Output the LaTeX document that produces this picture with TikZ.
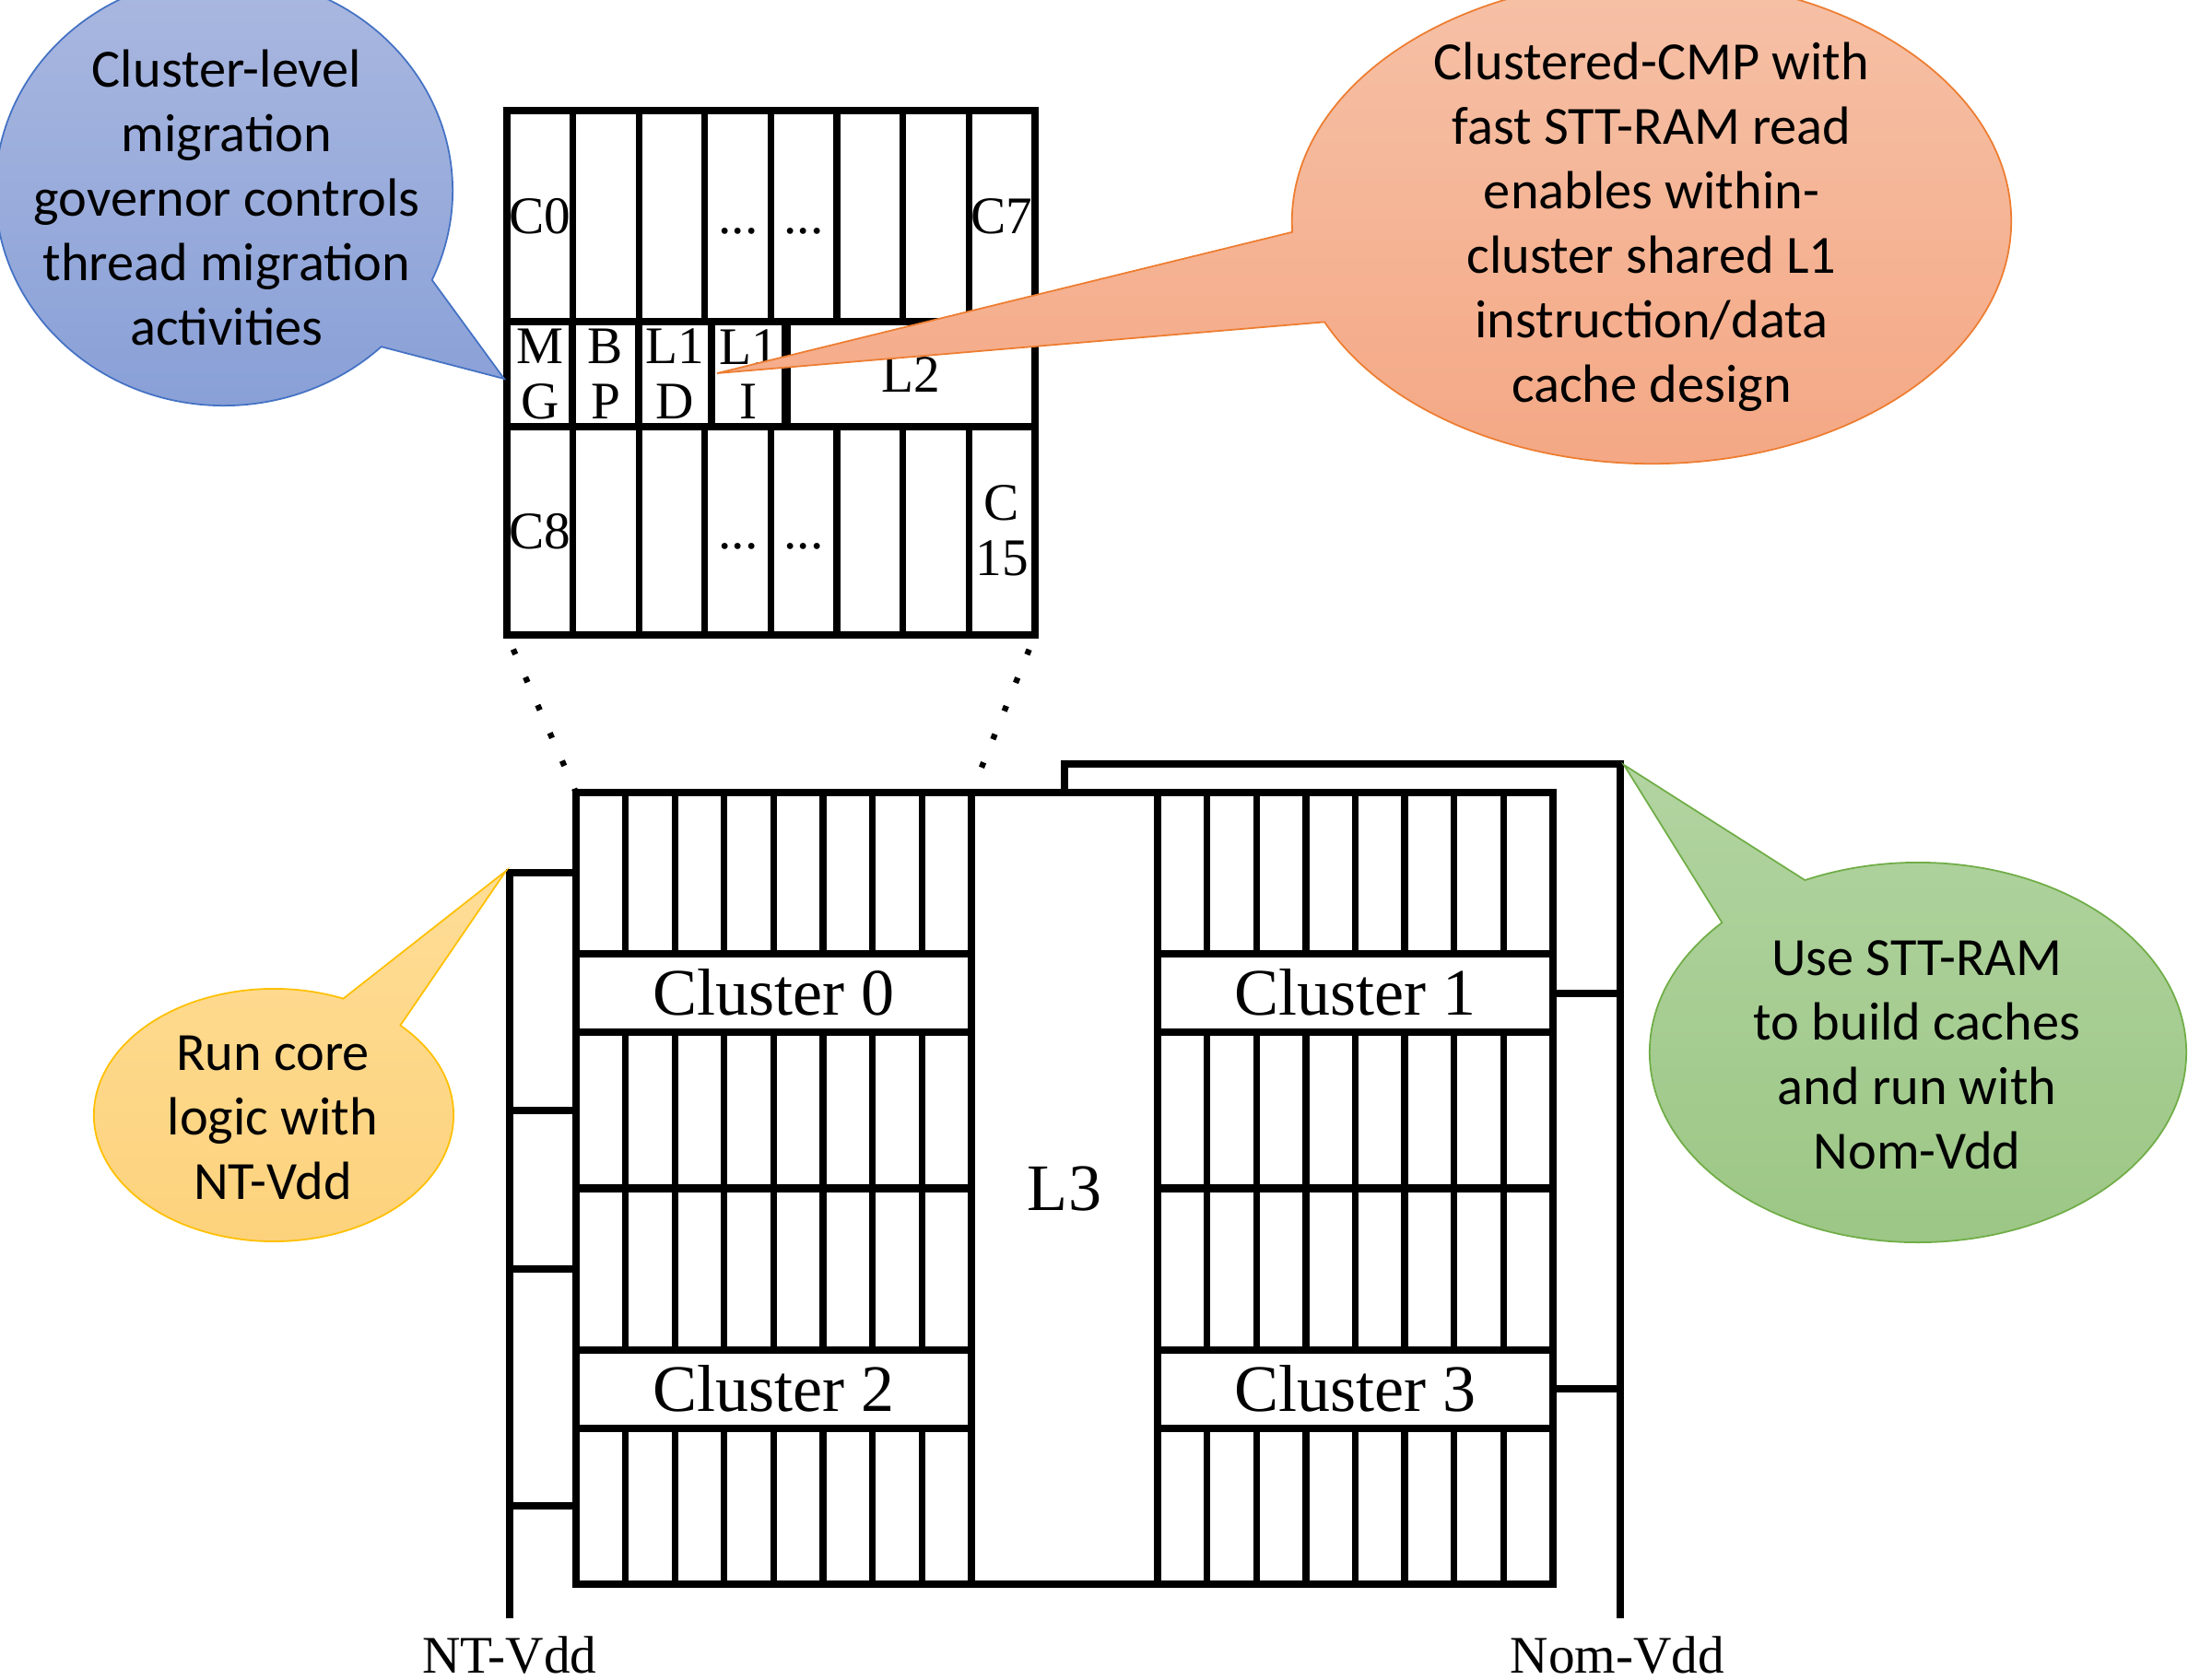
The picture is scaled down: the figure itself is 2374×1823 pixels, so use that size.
\documentclass[tikz,border=0pt]{standalone}
\usepackage{fontspec}
\setmainfont{Liberation Serif}
\newfontfamily\bubblefont{Carlito}
\usetikzlibrary{shapes.callouts}
\definecolor{bluetop}{RGB}{170,184,224}
\definecolor{bluebot}{RGB}{137,160,215}
\definecolor{blueedge}{RGB}{68,114,196}
\definecolor{orangetop}{RGB}{246,193,167}
\definecolor{orangebot}{RGB}{244,166,130}
\definecolor{orangeedge}{RGB}{237,125,49}
\definecolor{yellowtop}{RGB}{254,221,150}
\definecolor{yellowbot}{RGB}{253,210,124}
\definecolor{yellowedge}{RGB}{255,192,0}
\definecolor{greentop}{RGB}{178,212,161}
\definecolor{greenbot}{RGB}{155,198,132}
\definecolor{greenedge}{RGB}{112,173,71}
\tikzset{
chipline/.style={line width=2.1pt},
celltext/.style={font=\fontsize{16.3}{17}\selectfont, inner sep=0pt, align=center},
celllabel/.style={celltext, text height=10.8pt, text depth=0pt},
clustertext/.style={font=\fontsize{20.5}{24}\selectfont, inner sep=0pt, text height=13.6pt, text depth=0pt},
zoomline/.style={line width=1.8pt, dash pattern=on 0.06cm off 0.27cm, dash phase=0.16cm},
bubble/.style={ellipse callout, callout pointer arc=22, inner sep=0pt, line width=0.5pt},
bubbletext/.style={font=\bubblefont\fontsize{16.6}{19.9}\selectfont, align=center, inner sep=0pt}
}

\begin{document}
\begin{tikzpicture}[x=0.01cm,y=-0.01cm]
\useasboundingbox (0,0) rectangle (2374,1823);

% zoomed cluster
\draw[chipline] (550,120) rectangle (1123,689);
\draw[chipline] (550,349) -- (1123,349) (550,463) -- (1123,463);
\foreach \i in {1,...,7} {
  \draw[chipline] ({550+71.6*\i},120) -- ({550+71.6*\i},349);
  \draw[chipline] ({550+71.6*\i},463) -- ({550+71.6*\i},689);
}
\foreach \x in {621,693,772} \draw[chipline] (\x,349) -- (\x,463);
\draw[line width=3pt] (853,349) -- (853,463);
\node[celllabel] (c0) at (586,234) {C0};
\node[celllabel] (dotsa) at (801,234) {...};
\node[celllabel] (dotsb) at (872,234) {...};
\node[celllabel] (c7) at (1087,234) {C7};
\node[celltext] (mg) at (586,406) {M\\G};
\node[celltext] (bp) at (657,406) {B\\P};
\node[celltext] (lid) at (732,406) {L1\\D};
\node[celltext] (lii) at (812,406) {L1\\I};
\node[celllabel] (ltwo) at (988,406) {L2};
\node[celllabel] (c8) at (586,576) {C8};
\node[celllabel] (dotsc) at (801,576) {...};
\node[celllabel] (dotsd) at (872,576) {...};
\node[celltext] (c15) at (1087,576) {C\\15};
\coordinate (detail sw) at (550,689);
\coordinate (detail se) at (1123,689);
\coordinate (mg tip) at (547,411);
\coordinate (lii tip) at (778,405);

% chip
\foreach \x/\y/\n in {625/860/0, 1256/860/1, 625/1290/2, 1256/1290/3} {
  \draw[chipline] (\x,\y) rectangle ++(429,429);
  \draw[chipline] (\x,\y+175) -- ++(429,0) (\x,\y+260) -- ++(429,0);
  \foreach \i in {1,...,7} {
    \draw[chipline] ({\x+53.6*\i},\y) -- ++(0,175);
    \draw[chipline] ({\x+53.6*\i},\y+260) -- ++(0,169);
  }
  \node[clustertext] (cl\n) at (\x+214.5,\y+217.5) {Cluster \n};
}
\draw[chipline] (1054,860) -- (1256,860) (1054,1719) -- (1256,1719);
\node[clustertext] (lthree) at (1155,1290) {L3};
\coordinate (chip nw) at (625,860);
\coordinate (cl0 ne) at (1054,860);

% supply rails
\draw[chipline] (625,947) -- (553,947) -- (553,1756);
\foreach \y in {1205,1377,1634} \draw[chipline] (553,\y) -- (625,\y);
\draw[chipline] (1155,860) -- (1155,829) -- (1758,829) -- (1758,1756);
\foreach \y in {1078,1507} \draw[chipline] (1685,\y) -- (1758,\y);
\coordinate (nt tip) at (549,945);
\coordinate (nom tip) at (1762,830);
\node[celllabel] (ntvdd) at (553,1796) {NT-Vdd};
\node[celllabel] (nomvdd) at (1755,1796) {Nom-Vdd};

\draw[zoomline] (detail sw) -- (chip nw);
\draw[zoomline] (detail se) -- (cl0 ne);

% callouts
\node[bubble, draw=blueedge, top color=bluetop, bottom color=bluebot, minimum width=4.96cm, minimum height=4.66cm, callout absolute pointer={(mg tip)}] (migbubble) at (243,207) {};
\node[bubble, draw=orangeedge, top color=orangetop, bottom color=orangebot, minimum width=7.8cm, minimum height=5.26cm, callout absolute pointer={(lii tip)}] (cmpbubble) at (1792,240) {};
\node[bubble, draw=yellowedge, top color=yellowtop, bottom color=yellowbot, minimum width=3.9cm, minimum height=2.74cm, callout absolute pointer={(nt tip)}] (ntbubble) at (297,1210) {};
\node[bubble, draw=greenedge, top color=greentop, bottom color=greenbot, minimum width=5.82cm, minimum height=4.12cm, callout absolute pointer={(nom tip)}] (nombubble) at (2081,1142) {};
\node[bubbletext] (migtext) at (246,214) {Cluster-level\\migration\\governor controls\\thread migration\\activities};
\node[bubbletext] (cmptext) at (1792,246) {Clustered-CMP with\\fast STT-RAM read\\enables within-\\cluster shared L1\\instruction/data\\cache design};
\node[bubbletext] (nttext) at (296,1213) {Run core\\logic with\\NT-Vdd};
\node[bubbletext] (nomtext) at (2080,1145) {Use STT-RAM\\to build caches\\and run with\\Nom-Vdd};
\end{tikzpicture}
\end{document}
